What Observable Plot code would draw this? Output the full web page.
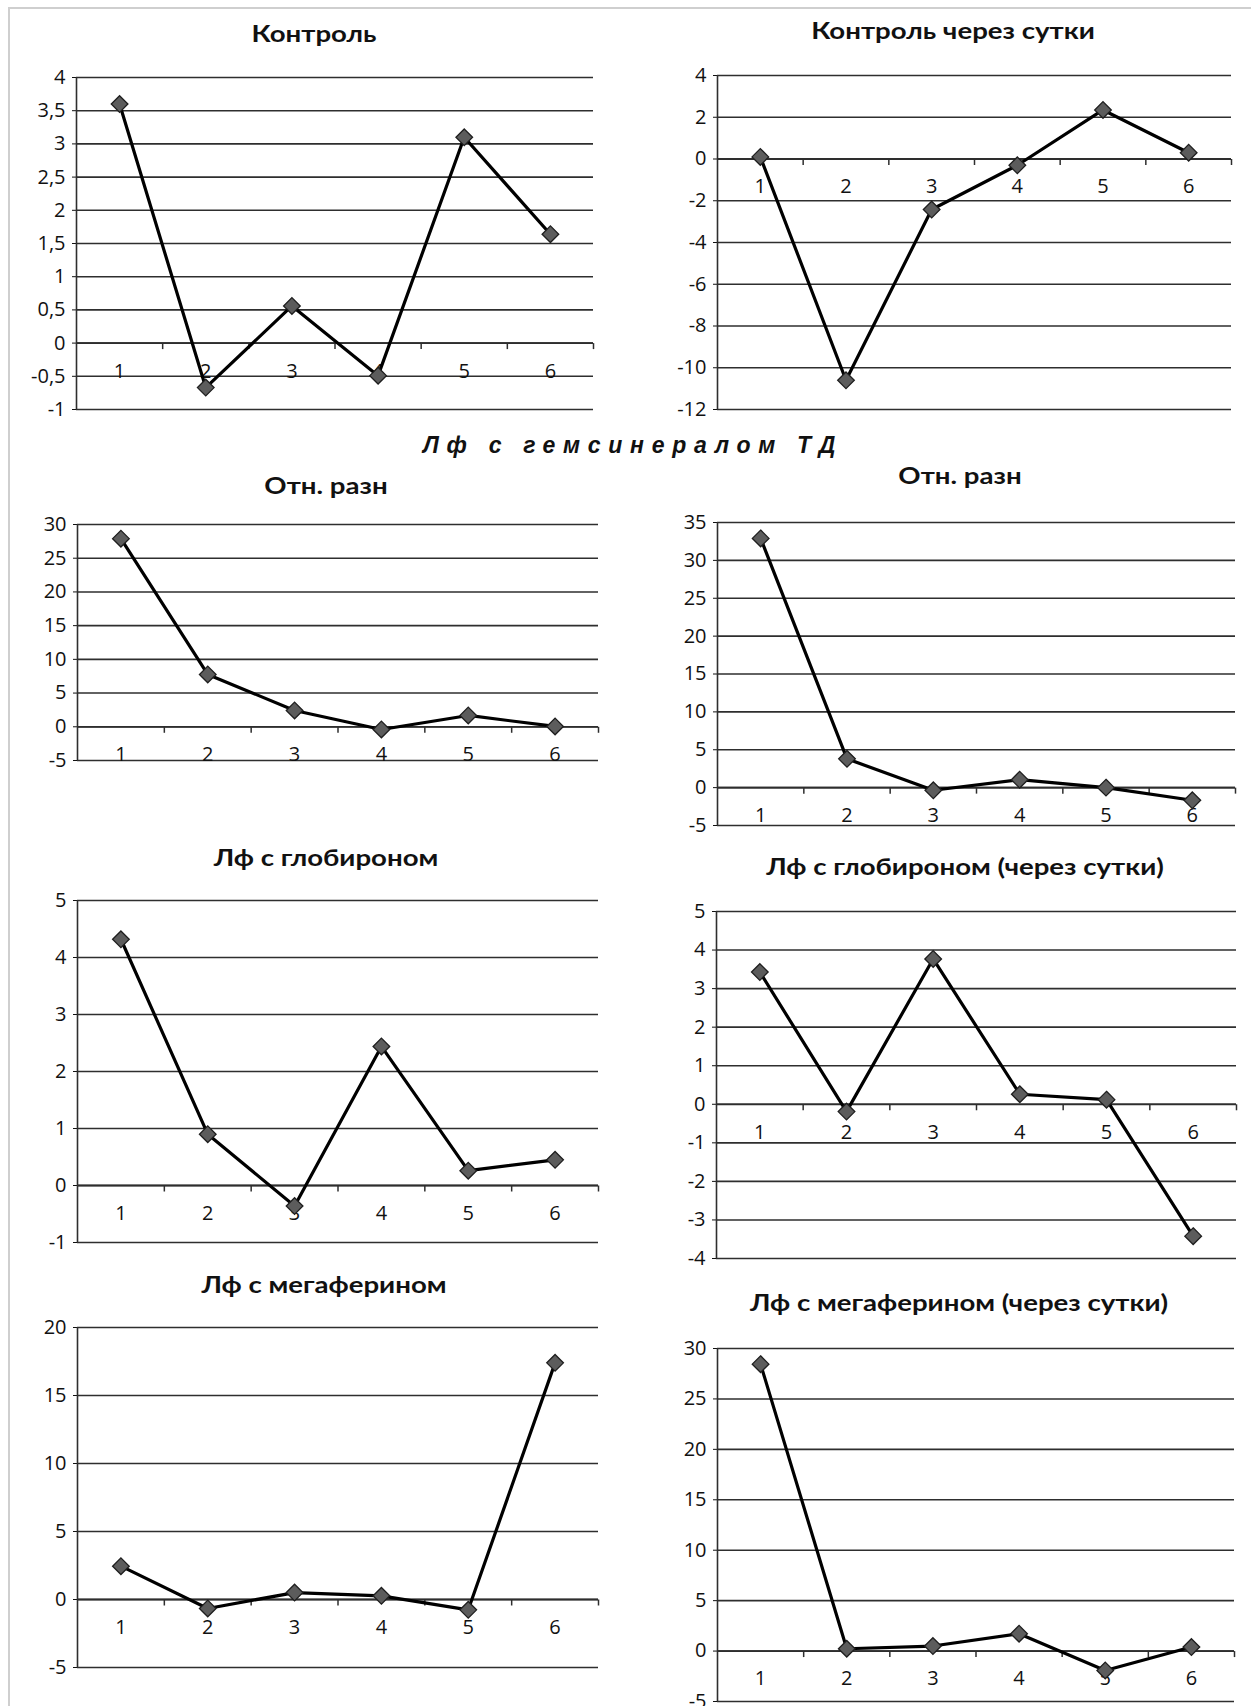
<!DOCTYPE html>
<html>
<head>
<meta charset="utf-8">
<script src="https://cdn.jsdelivr.net/npm/d3@7"></script>
<script src="https://cdn.jsdelivr.net/npm/@observablehq/plot@0.6"></script>
<style>
  html, body { margin: 0; padding: 0; background: #fff; }
  #page { position: relative; width: 1251px; height: 1706px; overflow: hidden; background: #fff; }
  #border { position: absolute; left: 8px; top: 7px; width: 1400px; height: 1800px;
            border-left: 2px solid #cfcfcf; border-top: 2px solid #cfcfcf; }
  .title { position: absolute; transform: translate(-50%, -50%) scaleX(1.2); white-space: nowrap;
           font-family: Lato, "Open Sans", sans-serif; font-weight: 700; font-size: 23px; color: #111; }
  .heading { position: absolute; transform: translate(-50%, -50%); white-space: nowrap;
             font-family: "Liberation Sans", Arial, sans-serif; font-weight: 700; font-style: italic;
             font-size: 23px; letter-spacing: 7.7px; color: #111; }
  .panel { position: absolute; }
</style>
</head>
<body>
<div id="page"><div id="border"></div></div>
<script>
// ---- data ----
const categories = [1, 2, 3, 4, 5, 6];

const control          = [3.6, -0.67, 0.56, -0.49, 3.1, 1.64];
const controlNextDay   = [0.1, -10.6, -2.42, -0.3, 2.35, 0.3];
const relDiff          = [27.9, 7.76, 2.42, -0.4, 1.68, 0.05];
const relDiffNextDay   = [32.9, 3.8, -0.35, 1.05, 0.0, -1.67];
const globiron         = [4.32, 0.9, -0.36, 2.44, 0.26, 0.45];
const globironNextDay  = [3.43, -0.19, 3.77, 0.26, 0.12, -3.42];
const megaferin        = [2.45, -0.66, 0.51, 0.27, -0.76, 17.4];
const megaferinNextDay = [28.45, 0.23, 0.5, 1.72, -1.92, 0.4];

// ---- tick labels ----
const ticksControl          = [-1, -0.5, 0, 0.5, 1, 1.5, 2, 2.5, 3, 3.5, 4];
const ticksControlNextDay   = [-12, -10, -8, -6, -4, -2, 0, 2, 4];
const ticksRelDiff          = [-5, 0, 5, 10, 15, 20, 25, 30];
const ticksRelDiffNextDay   = [-5, 0, 5, 10, 15, 20, 25, 30, 35];
const ticksGlobiron         = [-1, 0, 1, 2, 3, 4, 5];
const ticksGlobironNextDay  = [-4, -3, -2, -1, 0, 1, 2, 3, 4, 5];
const ticksMegaferin        = [-5, 0, 5, 10, 15, 20];
const ticksMegaferinNextDay = [-5, 0, 5, 10, 15, 20, 25, 30];

// ---- titles ----
const heading = "Лф с гемсинералом ТД";
const titles = [
  "Контроль",
  "Контроль через сутки",
  "Отн. разн",
  "Отн. разн",
  "Лф с глобироном",
  "Лф с глобироном (через сутки)",
  "Лф с мегаферином",
  "Лф с мегаферином (через сутки)"
];

// ---- layout of each panel's plotting frame (page pixels) ----
const layout = [
  {xa: 76,  xe: 593,  yt: 76.7,  yb: 408.3,  tx: 314, ty: 33},
  {xa: 717, xe: 1231, yt: 75,    yb: 409.3,  tx: 953, ty: 30},
  {xa: 77,  xe: 598,  yt: 524,   yb: 760,    tx: 326, ty: 485},
  {xa: 717, xe: 1235, yt: 522,   yb: 825.3,  tx: 960, ty: 475},
  {xa: 77,  xe: 598,  yt: 900.3, yb: 1242.7, tx: 326, ty: 857},
  {xa: 716, xe: 1236, yt: 910.7, yb: 1257.7, tx: 965, ty: 866},
  {xa: 77,  xe: 598,  yt: 1326.7,yb: 1666.7, tx: 324, ty: 1284},
  {xa: 717, xe: 1234, yt: 1347.7,yb: 1700.3, tx: 959, ty: 1302}
];

const series = [control, controlNextDay, relDiff, relDiffNextDay, globiron, globironNextDay, megaferin, megaferinNextDay];
const tickSets = [ticksControl, ticksControlNextDay, ticksRelDiff, ticksRelDiffNextDay, ticksGlobiron, ticksGlobironNextDay, ticksMegaferin, ticksMegaferinNextDay];

const page = document.getElementById("page");
const gridColor = "#2e2e2e";
const boundaries = [1.5, 2.5, 3.5, 4.5, 5.5, 6.5];
const downTick = { draw(ctx) { ctx.moveTo(0, 0); ctx.lineTo(0, 6); } };

function makePanel(values, ticks, L, title) {
  const ml = 70, mr = 10, mt = 12, mb = 12;
  const data = categories.map((c, i) => ({x: c, y: values[i]}));
  const chart = Plot.plot({
    width: Math.round(L.xe - L.xa + ml + mr),
    height: Math.round(L.yb - L.yt + mt + mb),
    marginLeft: ml, marginRight: mr, marginTop: mt, marginBottom: mb,
    style: {fontFamily: "'Open Sans', Lato, sans-serif", fontSize: "20px", color: "#111", background: "transparent", overflow: "visible"},
    x: {domain: [0.5, 6.5], axis: null},
    y: {
      domain: [ticks[0], ticks[ticks.length - 1]],
      ticks: ticks,
      tickFormat: d => String(d).replace(".", ","),
      tickSize: 4, tickPadding: 7, label: null
    },
    marks: [
      Plot.ruleY(ticks, {stroke: gridColor, strokeWidth: 1.6}),
      Plot.ruleX([0.5], {stroke: gridColor, strokeWidth: 1.6}),
      Plot.ruleY([0], {stroke: gridColor, strokeWidth: 1.8}),
      Plot.dot(boundaries, {x: d => d, y: () => 0, symbol: downTick, stroke: gridColor, strokeWidth: 1.5, fill: "none"}),
      Plot.text(categories, {x: d => d, y: () => 0, dy: 28, text: d => String(d), fill: "#111", fontSize: 20}),
      Plot.line(data, {x: "x", y: "y", stroke: "#000", strokeWidth: 3.2}),
      Plot.dot(data, {x: "x", y: "y", symbol: "diamond2", r: 7.5, fill: "#5c5c5c", stroke: "#1e1e1e", strokeWidth: 1.3})
    ]
  });
  const wrap = document.createElement("div");
  wrap.className = "panel";
  wrap.style.left = (L.xa - ml) + "px";
  wrap.style.top = (L.yt - mt) + "px";
  wrap.appendChild(chart);
  page.appendChild(wrap);

  const t = document.createElement("div");
  t.className = "title";
  t.textContent = title;
  t.style.left = L.tx + "px";
  t.style.top = L.ty + "px";
  page.appendChild(t);
}

series.forEach((s, i) => makePanel(s, tickSets[i], layout[i], titles[i]));

const h = document.createElement("div");
h.className = "heading";
h.textContent = heading;
h.style.left = "633px";
h.style.top = "445px";
page.appendChild(h);
</script>
</body>
</html>
